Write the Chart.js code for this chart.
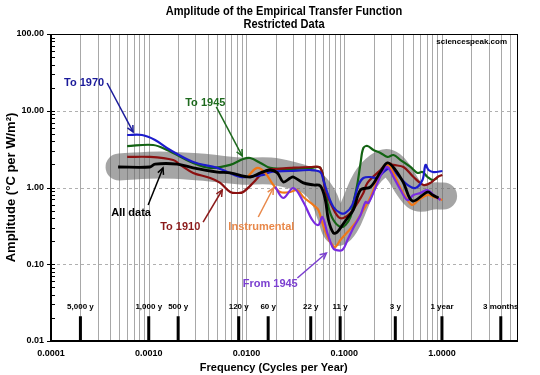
<!DOCTYPE html>
<html>
<head>
<meta charset="utf-8">
<script src="https://cdn.jsdelivr.net/npm/chart.js@4"></script>
<style>
html, body { margin: 0; padding: 0; background: #fff; }
</style>
</head>
<body>
<canvas id="chart" width="540" height="375"></canvas>
<script>
// amplitude curves (frequency in cycles/year, amplitude in degC per W/m2)
const allFreq = [0.000486, 0.00103, 0.00116, 0.00195, 0.00285, 0.00503, 0.00682, 0.0109, 0.0139, 0.0175, 0.0207, 0.0238, 0.0281, 0.0302, 0.0382, 0.0483, 0.0570, 0.0641, 0.0689, 0.0775, 0.0851, 0.0959, 0.108, 0.124, 0.147, 0.186, 0.235, 0.277, 0.335, 0.404, 0.500, 0.712, 0.801, 0.923];
const allAmp = [1.85, 1.85, 2.02, 2.02, 1.80, 1.59, 1.55, 1.37, 1.55, 1.69, 1.55, 1.18, 1.33, 1.37, 1.15, 1.08, 1.05, 0.69, 0.38, 0.255, 0.263, 0.325, 0.40, 0.51, 0.93, 1.02, 1.59, 2.09, 1.69, 1.15, 0.667, 0.874, 0.798, 0.73];

const to1970Freq = [0.000601, 0.000855, 0.00116, 0.00166, 0.00285, 0.00503, 0.00864, 0.0117, 0.0149, 0.0175, 0.0281, 0.0450, 0.0570, 0.0612, 0.0673, 0.0775, 0.0914, 0.103, 0.121, 0.140, 0.157, 0.186, 0.219, 0.252, 0.297, 0.351, 0.444, 0.536, 0.632, 0.679, 0.729, 0.820, 1.01];
const to1970Amp = [4.83, 4.83, 4.16, 3.08, 2.15, 1.80, 1.37, 1.41, 1.46, 1.59, 1.64, 1.69, 1.59, 1.25, 0.85, 0.557, 0.466, 0.466, 0.592, 1.08, 1.33, 1.37, 1.33, 1.59, 1.80, 1.46, 1.08, 0.985, 1.25, 1.97, 1.69, 1.59, 1.64];

const to1945Freq = [0.000601, 0.00111, 0.00154, 0.00285, 0.00426, 0.00682, 0.00927, 0.0109, 0.0139, 0.0175, 0.0281, 0.0450, 0.0570, 0.0641, 0.0689, 0.0775, 0.0914, 0.103, 0.116, 0.124, 0.137, 0.147, 0.157, 0.173, 0.199, 0.235, 0.277, 0.319, 0.377, 0.476, 0.562, 0.632, 0.712, 0.801, 0.902];
const to1945Amp = [3.47, 3.58, 3.08, 2.09, 1.80, 1.97, 2.35, 2.42, 2.09, 1.80, 1.74, 1.80, 1.80, 0.93, 0.557, 0.377, 0.306, 0.325, 0.413, 0.628, 1.15, 2.09, 3.27, 3.47, 3.08, 2.82, 2.50, 2.65, 2.28, 1.85, 1.55, 1.59, 1.37, 1.25, 1.33];

const to1910Freq = [0.000601, 0.00103, 0.00178, 0.00210, 0.00285, 0.00426, 0.00539, 0.00682, 0.00824, 0.00927, 0.0117, 0.0139, 0.0163, 0.0207, 0.0281, 0.0450, 0.0570, 0.0641, 0.0757, 0.0872, 0.0981, 0.116, 0.137, 0.157, 0.173, 0.235, 0.277, 0.319, 0.404, 0.512, 0.648, 0.764, 0.902, 1.01];
const to1910Amp = [2.50, 2.50, 2.28, 1.97, 1.55, 1.33, 1.15, 0.874, 0.848, 0.874, 1.15, 1.46, 1.69, 1.74, 1.80, 1.85, 1.80, 0.93, 0.557, 0.413, 0.401, 0.466, 0.628, 0.848, 1.15, 1.69, 2.09, 1.97, 1.85, 1.37, 1.08, 1.15, 1.37, 1.46];

const instFreq = [0.0104, 0.0129, 0.0156, 0.0188, 0.0222, 0.0281, 0.0331, 0.0382, 0.0483, 0.0544, 0.0598, 0.0673, 0.0757, 0.0813, 0.0914, 0.108, 0.130, 0.157, 0.186, 0.219, 0.277, 0.319, 0.377, 0.444, 0.500, 0.575, 0.712, 0.820, 1.01];
const instAmp = [1.41, 1.80, 1.55, 1.08, 0.874, 0.874, 0.928, 0.752, 0.592, 0.509, 0.345, 0.227, 0.178, 0.168, 0.207, 0.263, 0.345, 0.509, 0.752, 1.25, 1.97, 1.55, 0.985, 0.687, 0.592, 0.687, 0.798, 0.752, 0.687];

const from1945Freq = [0.0197, 0.0238, 0.0302, 0.0382, 0.0472, 0.0544, 0.0598, 0.0673, 0.0757, 0.0813, 0.0959, 0.108, 0.124, 0.147, 0.165, 0.177, 0.219, 0.252, 0.277, 0.319, 0.377, 0.444, 0.512, 0.604, 0.712, 0.820, 0.968];
const from1945Amp = [1.02, 0.73, 0.985, 0.647, 0.377, 0.325, 0.413, 0.255, 0.168, 0.154, 0.154, 0.207, 0.297, 0.439, 0.647, 0.628, 1.15, 1.69, 1.85, 1.37, 0.928, 0.687, 0.798, 0.848, 0.928, 0.798, 0.687];

// the wide grey envelope behind the curves
const bandFreq = [0.000497, 0.00131, 0.00336, 0.00864, 0.0175, 0.0281, 0.0450, 0.0598, 0.0722, 0.0851, 0.103, 0.130, 0.165, 0.224, 0.284, 0.359, 0.455, 0.575, 0.801, 1.04];
const bandAmp = [1.85, 1.97, 1.85, 1.64, 1.64, 1.46, 1.18, 0.80, 0.44, 0.263, 0.325, 0.628, 1.25, 1.91, 2.09, 1.59, 0.985, 0.73, 0.775, 0.775];

// period markers along the bottom
const periodFreq = [0.0002, 0.001, 0.002, 0.00833, 0.01667, 0.04545, 0.0909, 0.3333, 1, 4];
const periodLabels = ['5,000 y', '1,000 y', '500 y', '120 y', '60 y', '22 y', '11 y', '3 y', '1 year', '3 months'];
const periodTop = 0.021;

const xMin = 0.0001, xMax = 6, yMin = 0.01, yMax = 100;

// callouts: text anchor, arrow start, arrow tip (all in data units)
const notes = [
  { text: 'To 1970', color: '#1a1a9a', tx: 0.000218, ty: 23.0, x1: 0.000375, y1: 23.0, x2: 0.000692, y2: 5.29 },
  { text: 'To 1945', color: '#1e6a1e', tx: 0.00379, ty: 12.6, x1: 0.00491, y1: 11.2, x2: 0.00906, y2: 2.57 },
  { text: 'All data', color: '#000000', tx: 0.00066, ty: 0.466, x1: 0.000986, y1: 0.592, x2: 0.0014, y2: 1.80 },
  { text: 'To 1910', color: '#8b1a1a', tx: 0.0021, ty: 0.306, x1: 0.0036, y1: 0.355, x2: 0.00565, y2: 0.928 },
  { text: 'Instrumental', color: '#e8884a', tx: 0.0142, ty: 0.306, x1: 0.0132, y1: 0.413, x2: 0.0188, y2: 0.985 },
  { text: 'From 1945', color: '#7b3fd0', tx: 0.0175, ty: 0.0553, x1: 0.0332, y1: 0.0662, x2: 0.0657, y2: 0.140 }
];

function pts(fs, as) {
  return fs.map((f, i) => ({ x: f, y: as[i] }));
}

function curve(label, fs, as, color, width, order) {
  return {
    label: label,
    data: pts(fs, as),
    borderColor: color,
    borderWidth: width,
    pointRadius: 0,
    tension: 0.35,
    fill: false,
    order: order
  };
}

function isDecade(v) {
  const l = Math.log10(v);
  return Math.abs(l - Math.round(l)) < 1e-6;
}

const barData = [];
periodFreq.forEach(f => {
  barData.push({ x: f, y: yMin }, { x: f, y: periodTop }, { x: f, y: null });
});

function arrow(ctx, x1, y1, x2, y2, color) {
  const ang = Math.atan2(y2 - y1, x2 - x1);
  const L = 7;
  ctx.strokeStyle = color;
  ctx.lineWidth = 1.5;
  ctx.beginPath();
  ctx.moveTo(x1, y1);
  ctx.lineTo(x2, y2);
  ctx.stroke();
  ctx.beginPath();
  ctx.moveTo(x2 - L * Math.cos(ang - 0.45), y2 - L * Math.sin(ang - 0.45));
  ctx.lineTo(x2, y2);
  ctx.lineTo(x2 - L * Math.cos(ang + 0.45), y2 - L * Math.sin(ang + 0.45));
  ctx.stroke();
}

// condensed bold text, like the narrow face of the original
function narrowText(ctx, text, cx, cy, size, squeeze) {
  ctx.save();
  ctx.translate(cx, cy);
  ctx.scale(squeeze, 1);
  ctx.font = 'bold ' + size + 'px "Liberation Sans", Arial, sans-serif';
  ctx.textAlign = 'center';
  ctx.textBaseline = 'middle';
  ctx.fillText(text, 0, 0);
  ctx.restore();
}

const decor = {
  id: 'decor',
  beforeDatasetsDraw(chart) {
    const { ctx, chartArea: a, scales: { x, y } } = chart;
    ctx.save();
    // vertical grid at every log step
    ctx.strokeStyle = '#a8a8a8';
    ctx.lineWidth = 1;
    for (let e = -4; e <= 0; e++) {
      for (let m = 1; m <= 9; m++) {
        const v = m * Math.pow(10, e);
        if (v <= xMin || v >= xMax) continue;
        const px = Math.round(x.getPixelForValue(v)) + 0.5;
        ctx.beginPath();
        ctx.moveTo(px, a.top);
        ctx.lineTo(px, a.bottom);
        ctx.stroke();
      }
    }
    // dashed horizontal grid at decades
    ctx.setLineDash([3, 3]);
    ctx.strokeStyle = '#b0b0b0';
    [0.1, 1, 10].forEach(v => {
      const py = Math.round(y.getPixelForValue(v)) + 0.5;
      ctx.beginPath();
      ctx.moveTo(a.left, py);
      ctx.lineTo(a.right, py);
      ctx.stroke();
    });
    ctx.setLineDash([]);
    ctx.restore();
  },
  afterDatasetsDraw(chart) {
    const { ctx, chartArea: a, scales: { x, y } } = chart;
    ctx.save();
    // frame
    ctx.strokeStyle = '#000';
    ctx.lineWidth = 1;
    ctx.strokeRect(a.left + 0.5, a.top + 0.5, a.right - a.left - 1, a.bottom - a.top - 1);
    ctx.lineWidth = 2;
    ctx.beginPath();
    ctx.moveTo(a.left, a.top);
    ctx.lineTo(a.left, a.bottom);
    ctx.lineTo(a.right, a.bottom);
    ctx.stroke();
    // y ticks
    ctx.lineWidth = 1;
    for (let e = -2; e <= 1; e++) {
      for (let m = 1; m <= 9; m++) {
        const v = m * Math.pow(10, e);
        const py = Math.round(y.getPixelForValue(v)) + 0.5;
        ctx.beginPath();
        ctx.moveTo(m === 1 ? a.left - 4 : a.left, py);
        ctx.lineTo(a.left + 4, py);
        ctx.stroke();
      }
    }
    const top = y.getPixelForValue(yMax);
    ctx.beginPath();
    ctx.moveTo(a.left - 4, top + 0.5);
    ctx.lineTo(a.left, top + 0.5);
    ctx.stroke();
    // period labels
    ctx.fillStyle = '#000';
    ctx.font = 'bold 8px "Liberation Sans", Arial, sans-serif';
    ctx.textAlign = 'center';
    ctx.textBaseline = 'middle';
    periodFreq.forEach((f, i) => {
      ctx.fillText(periodLabels[i], x.getPixelForValue(f), y.getPixelForValue(periodTop) - 9);
    });
    // callouts
    ctx.font = 'bold 11px "Liberation Sans", Arial, sans-serif';
    notes.forEach(n => {
      ctx.fillStyle = n.color;
      ctx.fillText(n.text, x.getPixelForValue(n.tx), y.getPixelForValue(n.ty));
      arrow(ctx, x.getPixelForValue(n.x1), y.getPixelForValue(n.y1),
        x.getPixelForValue(n.x2), y.getPixelForValue(n.y2), n.color);
    });
    // watermark
    ctx.fillStyle = '#000';
    ctx.font = 'bold 8px "Liberation Sans", Arial, sans-serif';
    ctx.textAlign = 'right';
    ctx.fillText('sciencespeak.com', a.right - 11, a.top + 8);
    // title
    narrowText(ctx, 'Amplitude of the Empirical Transfer Function', 284, 11, 13, 0.85);
    narrowText(ctx, 'Restricted Data', 284, 24, 13, 0.85);
    ctx.restore();
  }
};

const tickFont = { family: '"Liberation Sans", Arial, sans-serif', weight: 'bold', size: 9 };

new Chart(document.getElementById('chart'), {
  type: 'line',
  data: {
    datasets: [
      { label: 'periods', data: barData, borderColor: '#000', borderWidth: 3, pointRadius: 0, tension: 0, spanGaps: false, borderCapStyle: 'butt', order: 0 },
      curve('All data', allFreq, allAmp, '#000000', 2.8, 1),
      curve('From 1945', from1945Freq, from1945Amp, '#7a2be0', 2.2, 2),
      curve('Instrumental', instFreq, instAmp, '#f07818', 2.2, 3),
      curve('To 1970', to1970Freq, to1970Amp, '#1c1ccc', 2.2, 4),
      curve('To 1910', to1910Freq, to1910Amp, '#8b1010', 2.2, 5),
      curve('To 1945', to1945Freq, to1945Amp, '#136313', 2.2, 6),
      {
        label: 'envelope', data: pts(bandFreq, bandAmp),
        borderColor: 'rgba(105,105,105,0.6)', borderWidth: 27,
        borderCapStyle: 'round', borderJoinStyle: 'round',
        pointRadius: 0, tension: 0.4, order: 7
      }
    ]
  },
  options: {
    responsive: false,
    animation: false,
    events: [],
    layout: { padding: { top: 34, right: 22, left: 0, bottom: 0 } },
    plugins: {
      legend: { display: false },
      tooltip: { enabled: false },
      title: { display: false }
    },
    scales: {
      x: {
        type: 'logarithmic',
        min: xMin,
        max: xMax,
        grid: { display: false, drawTicks: false },
        border: { display: false },
        ticks: {
          autoSkip: false,
          maxRotation: 0,
          color: '#000',
          font: tickFont,
          padding: 7,
          callback: v => isDecade(v) ? Number(v).toFixed(4) : ''
        },
        title: {
          display: true,
          text: 'Frequency (Cycles per Year)       ',
          color: '#000',
          font: { family: '"Liberation Sans", Arial, sans-serif', weight: 'bold', size: 11 },
          padding: { top: 0, bottom: 0 }
        },
        afterFit: s => { s.height = 34; }
      },
      y: {
        type: 'logarithmic',
        min: yMin,
        max: yMax,
        grid: { display: false, drawTicks: false },
        border: { display: false },
        ticks: {
          autoSkip: false,
          color: '#000',
          font: tickFont,
          padding: 7,
          callback: v => isDecade(v) ? Number(v).toFixed(2) : ''
        },
        title: {
          display: true,
          text: 'Amplitude (°C per W/m²)',
          color: '#000',
          font: { family: '"Liberation Sans", Arial, sans-serif', weight: 'bold', size: 13 },
          padding: { top: 4, bottom: 0 }
        },
        afterFit: s => { s.width = 51; }
      }
    }
  },
  plugins: [decor]
});
</script>
</body>
</html>
